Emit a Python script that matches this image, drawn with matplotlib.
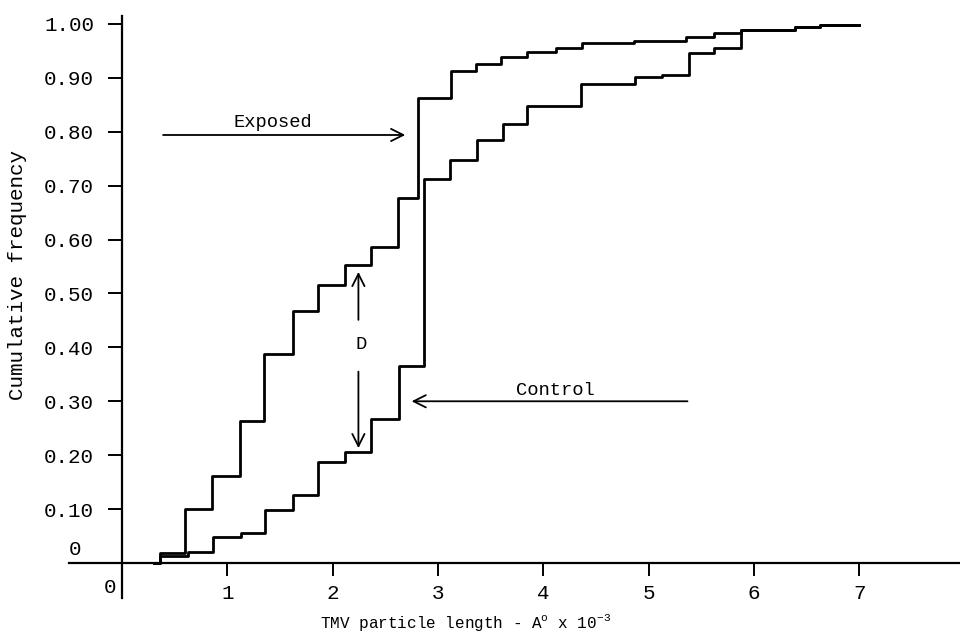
import matplotlib
matplotlib.use("Agg")
import matplotlib.pyplot as plt

# ---- data ----
exposed_x = [0.30, 0.36, 0.60, 0.85, 1.12, 1.35, 1.62, 1.86, 2.12, 2.36, 2.62, 2.81,
             3.12, 3.36, 3.60, 3.85, 4.12, 4.37, 4.86, 5.36, 5.62, 5.88, 6.39, 6.63, 7.00]
exposed_y = [0.000, 0.019, 0.100, 0.162, 0.264, 0.387, 0.467, 0.516, 0.552, 0.587, 0.677, 0.862,
             0.913, 0.926, 0.939, 0.948, 0.956, 0.964, 0.969, 0.976, 0.983, 0.988, 0.994, 0.998, 0.998]

control_x = [0.30, 0.36, 0.63, 0.86, 1.13, 1.36, 1.62, 1.86, 2.12, 2.36, 2.63, 2.87,
             3.11, 3.37, 3.62, 3.85, 4.36, 4.87, 5.13, 5.38, 5.62, 5.88, 6.39, 6.63, 7.00]
control_y = [0.000, 0.013, 0.021, 0.049, 0.055, 0.099, 0.127, 0.188, 0.205, 0.267, 0.366, 0.712,
             0.747, 0.784, 0.814, 0.848, 0.888, 0.901, 0.905, 0.946, 0.956, 0.988, 0.994, 0.998, 0.998]

x_ticks = [1, 2, 3, 4, 5, 6, 7]
y_ticks = [0.10, 0.20, 0.30, 0.40, 0.50, 0.60, 0.70, 0.80, 0.90, 1.00]
y_tick_labels = ["0.10", "0.20", "0.30", "0.40", "0.50", "0.60", "0.70", "0.80", "0.90", "1.00"]

FONT = "Liberation Mono"
plt.rcParams["font.family"] = [FONT, "DejaVu Sans Mono"]
plt.rcParams["mathtext.fontset"] = "custom"
plt.rcParams["mathtext.rm"] = FONT
plt.rcParams["mathtext.it"] = FONT

fig = plt.figure(figsize=(9.6, 6.39), dpi=100)
# axes placed so that x=0 -> px 122, 105.3 px/unit ; y=0 -> px 563, 539 px/unit
ax = fig.add_axes([0.07224, 0.0346, 0.928, 0.9448])
ax.set_xlim(-0.5, 7.96)
ax.set_ylim(-0.1, 1.02)

lw = 2.0
ax.step(exposed_x, exposed_y, where="post", color="black", lw=lw)
ax.step(control_x, control_y, where="post", color="black", lw=lw)

# spines through the origin
for s in ["top", "right"]:
    ax.spines[s].set_visible(False)
ax.spines["left"].set_position(("data", 0))
ax.spines["bottom"].set_position(("data", 0))
ax.spines["left"].set_bounds(-0.065, 1.015)
ax.spines["bottom"].set_bounds(-0.5, 7.96)
ax.spines["left"].set_linewidth(1.6)
ax.spines["bottom"].set_linewidth(1.6)

ax.set_xticks(x_ticks)
ax.set_xticklabels([str(t) for t in x_ticks])
ax.set_yticks(y_ticks)
ax.set_yticklabels(y_tick_labels)
ax.tick_params(axis="y", direction="out", length=10, width=1.4, pad=10, labelsize=15)
ax.tick_params(axis="x", direction="out", length=9, width=1.4, pad=6, labelsize=15)

# origin zeros
ax.text(-0.05, -0.045, "0", ha="right", va="center", fontsize=15)
ax.text(-0.45, 0.025, "0", ha="center", va="center", fontsize=15)

# axis labels
ax.text(-0.988, 0.534, "Cumulative frequency", rotation=90, ha="center", va="center",
        fontsize=15, clip_on=False)
ax.text(3.26, -0.111, r"TMV particle length - A$^{\mathrm{o}}$ x 10$^{\mathrm{-3}}$",
        ha="center", va="center", fontsize=11.5, clip_on=False)

# annotations
arrow = dict(arrowstyle="->", lw=1.3, color="black", mutation_scale=22,
             shrinkA=0, shrinkB=0)
ax.annotate("", xy=(2.69, 0.794), xytext=(0.39, 0.794), arrowprops=arrow)
ax.text(1.43, 0.818, "Exposed", ha="center", va="center", fontsize=13.5)

ax.annotate("", xy=(2.75, 0.300), xytext=(5.37, 0.300), arrowprops=arrow)
ax.text(4.12, 0.320, "Control", ha="center", va="center", fontsize=13.5)

ax.annotate("", xy=(2.245, 0.540), xytext=(2.245, 0.451), arrowprops=arrow)
ax.annotate("", xy=(2.245, 0.213), xytext=(2.245, 0.355), arrowprops=arrow)
ax.text(2.27, 0.405, "D", ha="center", va="center", fontsize=13.5)

fig.savefig("out.png", dpi=100, facecolor="white")
